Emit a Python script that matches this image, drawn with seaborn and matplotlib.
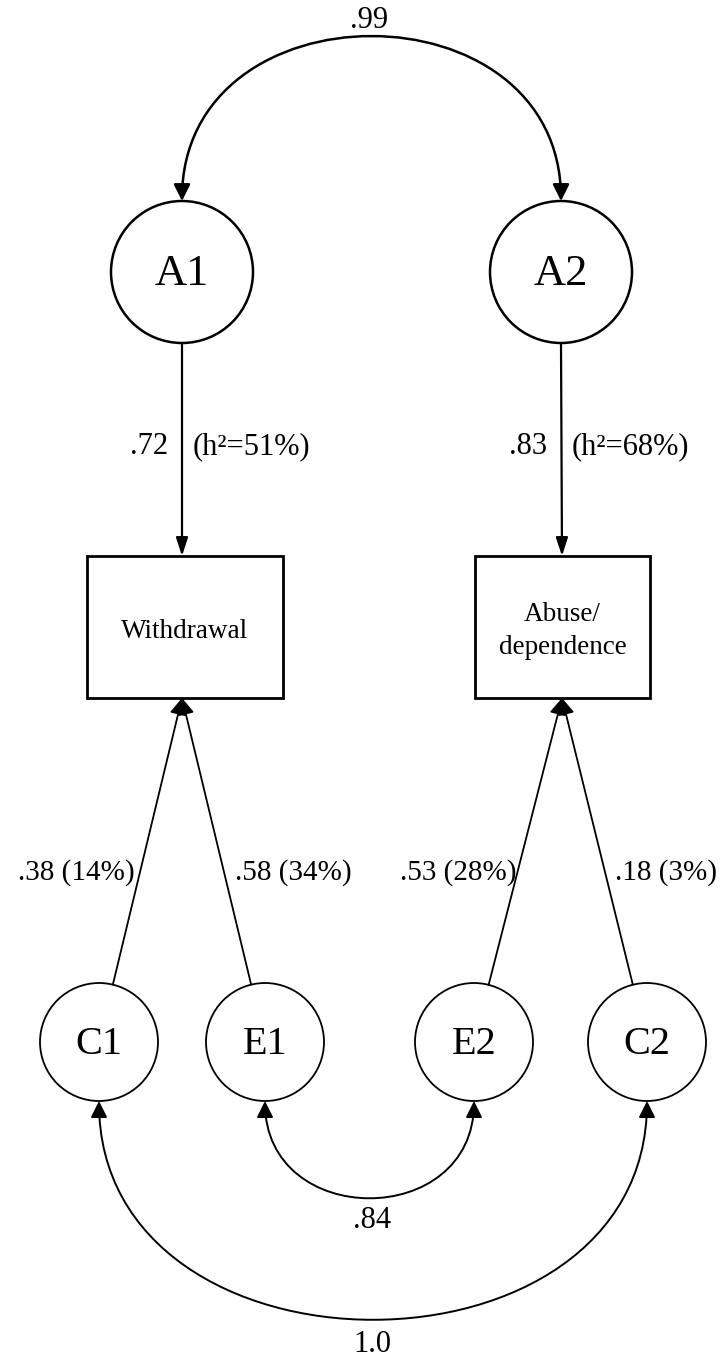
import matplotlib.pyplot as plt
from matplotlib.patches import Circle, Rectangle, FancyArrowPatch, ArrowStyle
from matplotlib.path import Path
import seaborn as sns

# 資料：節點名稱、路徑係數、相關
latent_top = ["A1", "A2"]
phenotypes = ["Withdrawal", "Abuse/\ndependence"]
a_loadings = [".72", ".83"]
heritability = ["(h²=51%)", "(h²=68%)"]
latent_bottom = ["C1", "E1", "E2", "C2"]
ce_loadings = [".38 (14%)", ".58 (34%)", ".53 (28%)", ".18 (3%)"]
ce_target = [0, 0, 1, 1]          # 每個 C/E 指向哪個方框
corr_labels = [".99", ".84", "1.0"]

# 版面位置 (像素座標, y 向下)
top_xy = [(182, 272), (561, 272)]
top_r = 71
box_xy = [(87, 556, 196, 142), (475, 556, 175, 142)]
box_tip_x = [182, 562]
bottom_xy = [(99, 1042), (265, 1042), (474, 1042), (647, 1042)]
bottom_r = 59


def straight_arrow(ax, start, end, lw, hl, hw):
    style = ArrowStyle("-|>", head_length=hl, head_width=hw)
    ax.add_patch(FancyArrowPatch(start, end, arrowstyle=style, mutation_scale=20,
                                 lw=lw, color="black", shrinkA=0, shrinkB=0))


def curved_double_arrow(ax, p0, p1, k, lw):
    verts = [p0, (p0[0], p0[1] + k), (p1[0], p1[1] + k), p1]
    codes = [Path.MOVETO, Path.CURVE4, Path.CURVE4, Path.CURVE4]
    style = ArrowStyle("<|-|>", head_length=0.5, head_width=0.25)
    ax.add_patch(FancyArrowPatch(path=Path(verts, codes), arrowstyle=style,
                                 mutation_scale=20, lw=lw, color="black"))


sns.set_theme(style="white")
plt.rcParams['font.family'] = ['Liberation Serif', 'DejaVu Serif']
plt.rcParams['text.color'] = 'black'

fig = plt.figure(figsize=(7.26, 13.59), dpi=100)
ax = fig.add_axes([0, 0, 1, 1])
ax.set_xlim(0, 726)
ax.set_ylim(1359, 0)
ax.axis("off")

# A 節點與方框
for i, (cx, cy) in enumerate(top_xy):
    ax.add_patch(Circle((cx, cy), top_r, fill=False, lw=1.8, ec="black"))
    ax.text(cx, cy + 2, latent_top[i], fontsize=32, ha="center", va="center")
    x, y, w, h = box_xy[i]
    ax.add_patch(Rectangle((x, y), w, h, fill=False, lw=2.0, ec="black"))
    ax.text(x + w / 2, y + h / 2 + 4, phenotypes[i], fontsize=19.5, ha="center",
            va="center", linespacing=1.4)
    straight_arrow(ax, (cx, cy + top_r), (box_tip_x[i], y), 1.6, 0.55, 0.18)
    ax.text(cx - 14, 447, a_loadings[i], fontsize=22, ha="right", va="center")
    ax.text(cx + 11, 447, heritability[i], fontsize=22, ha="left", va="center")

# C / E 節點
for i, (cx, cy) in enumerate(bottom_xy):
    ax.add_patch(Circle((cx, cy), bottom_r, fill=False, lw=1.3, ec="black"))
    ax.text(cx, cy + 2, latent_bottom[i], fontsize=29, ha="center", va="center")
    tip = (box_tip_x[ce_target[i]], box_xy[ce_target[i]][1] + box_xy[ce_target[i]][3])
    dx, dy = tip[0] - cx, tip[1] - cy
    d = (dx ** 2 + dy ** 2) ** 0.5
    start = (cx + bottom_r * dx / d, cy + bottom_r * dy / d)
    straight_arrow(ax, start, tip, 1.3, 0.5, 0.25)

ce_label_x = [135, 235, 517, 615]
ce_label_ha = ["right", "left", "right", "left"]
for i, lab in enumerate(ce_loadings):
    ax.text(ce_label_x[i], 873, lab, fontsize=21, ha=ce_label_ha[i], va="center")

# 相關曲線
curved_double_arrow(ax, (top_xy[0][0], top_xy[0][1] - top_r),
                    (top_xy[1][0], top_xy[1][1] - top_r), -219, 1.8)
curved_double_arrow(ax, (bottom_xy[1][0], bottom_xy[1][1] + bottom_r),
                    (bottom_xy[2][0], bottom_xy[2][1] + bottom_r), 129, 1.4)
curved_double_arrow(ax, (bottom_xy[0][0], bottom_xy[0][1] + bottom_r),
                    (bottom_xy[3][0], bottom_xy[3][1] + bottom_r), 291, 1.4)

ax.text(369, 20, corr_labels[0], fontsize=22, ha="center", va="center")
ax.text(372, 1220, corr_labels[1], fontsize=22, ha="center", va="center")
ax.text(372, 1345, corr_labels[2], fontsize=22, ha="center", va="center")

fig.savefig("out.png", dpi=100, facecolor="white")
